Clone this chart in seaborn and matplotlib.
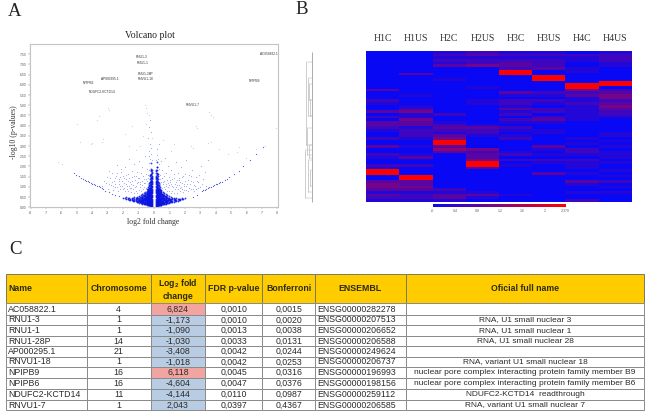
import matplotlib
matplotlib.use("Agg")
import matplotlib.pyplot as plt
from matplotlib.colors import LinearSegmentedColormap
from matplotlib.table import Table
import numpy as np
import pandas as pd
import seaborn as sns

# Panel A: values
gene_labels = ["RNU1-3", "RNU1-1", "RNU1-28P", "RNVU1-18", "AP000295.1", "NPIPB6",
               "NDUFC2-KCTD14", "RNVU1-7", "NPIPB9", "AC058822.1"]
gene_fc = [-0.8, -0.74, -0.54, -0.54, -2.86, -4.26, -3.4, 2.49, 6.5, 7.45]
gene_logp = [7.36, 7.08, 6.55, 6.27, 6.27, 6.1, 5.67, 5.02, 6.17, 7.5]

# dense centre of the plot, one list of -log10 p per fold change column
core_fc = [-0.12, -0.17, -0.22, -0.28, -0.34, -0.41, -0.48, -0.56, -0.65, -0.75, -0.86, -1.0, -1.13, -1.28, -1.45, -1.62, -1.8, -2.0,
           0.12, 0.17, 0.22, 0.28, 0.34, 0.41, 0.48, 0.56, 0.65, 0.75, 0.86, 1.0, 1.13, 1.28, 1.45, 1.62, 1.8, 2.0]
core_logp = [
    [.03, .1, .2, .3, .42, .55, .68, .8, .92, 1.05, 1.18, 1.3, 1.42, 1.55, 1.68, 1.82],
    [.04, .09, .15, .22, .3, .38, .46, .54, .62, .7, .8, .9, 1.0, 1.1, 1.22, 1.35, 1.5, 1.65, 1.85],
    [.06, .12, .18, .25, .32, .39, .46, .53, .6, .68, .76, .84, .93, 1.03, 1.15, 1.3, 1.45, 1.62, 1.9, 2.15],
    [.08, .14, .2, .26, .32, .38, .44, .5, .56, .62, .7, .78, .86, .96, 1.08, 1.22, 1.4, 1.6],
    [.1, .16, .22, .28, .34, .4, .46, .52, .58, .64, .72, .8, .9, 1.02, 1.2],
    [.11, .17, .23, .29, .35, .41, .47, .53, .6, .68, .76, .86, 1.0],
    [.13, .19, .25, .31, .37, .43, .49, .56, .63, .72, .82],
    [.14, .2, .26, .32, .38, .44, .5, .57, .66, .76],
    [.16, .22, .28, .34, .4, .46, .53, .6, .7],
    [.18, .24, .3, .36, .42, .48, .55, .64],
    [.2, .26, .32, .38, .44, .5, .58],
    [.23, .29, .35, .41, .47, .55],
    [.27, .33, .39, .45, .52],
    [.3, .36, .42, .49],
    [.34, .4, .47],
    [.38, .45],
    [.42, .5],
    [.47],
    [.03, .1, .2, .3, .42, .55, .68, .8, .92, 1.05, 1.18, 1.3, 1.42, 1.55, 1.7, 1.85],
    [.04, .09, .15, .22, .3, .38, .46, .54, .62, .7, .8, .9, 1.0, 1.1, 1.22, 1.35, 1.5, 1.7, 1.95],
    [.06, .12, .18, .25, .32, .39, .46, .53, .6, .68, .76, .84, .93, 1.03, 1.15, 1.3, 1.45, 1.65, 1.95, 2.2],
    [.08, .14, .2, .26, .32, .38, .44, .5, .56, .62, .7, .78, .86, .96, 1.08, 1.22, 1.4, 1.65],
    [.09, .15, .21, .27, .33, .39, .45, .51, .57, .64, .72, .8, .9, 1.02, 1.2],
    [.11, .17, .23, .29, .35, .41, .47, .53, .6, .68, .76, .86, 1.0],
    [.12, .18, .24, .3, .36, .42, .48, .55, .63, .72, .82],
    [.14, .2, .26, .32, .38, .44, .5, .57, .66, .76],
    [.16, .22, .28, .34, .4, .46, .53, .6, .7],
    [.18, .24, .3, .36, .42, .48, .55, .64],
    [.2, .26, .32, .38, .44, .5, .58],
    [.22, .28, .34, .4, .46, .54],
    [.25, .31, .37, .43, .5],
    [.28, .34, .4, .47],
    [.32, .38, .45],
    [.36, .43],
    [.4, .48],
    [.45],
]

# same region, columns falling between the ones above
core_fc_b = [-0.145, -0.195, -0.25, -0.31, -0.375, -0.445, -0.52, -0.605, -0.7, -0.8, -0.93, -1.07, -1.2, -1.36, -1.53, -1.7, -1.9,
             0.145, 0.195, 0.25, 0.31, 0.375, 0.445, 0.52, 0.605, 0.7, 0.8, 0.93, 1.07, 1.2, 1.36, 1.53, 1.7, 1.9]
core_logp_b = [
    [.07, .16, .27, .38, .5, .62, .75, .87, 1.0, 1.12, 1.25, 1.37, 1.5, 1.72],
    [.07, .13, .2, .27, .35, .43, .51, .59, .67, .75, .85, .95, 1.06, 1.18, 1.3, 1.44, 1.58, 1.77],
    [.1, .16, .23, .29, .36, .42, .49, .57, .65, .73, .81, .9, 1.0, 1.12, 1.26, 1.52],
    [.12, .18, .24, .3, .36, .42, .48, .54, .6, .67, .75, .84, .95, 1.1],
    [.13, .19, .25, .31, .37, .43, .49, .55, .62, .7, .79, .92],
    [.14, .2, .26, .32, .38, .44, .5, .57, .65, .74, .88],
    [.16, .22, .28, .34, .4, .46, .52, .6, .68],
    [.17, .23, .29, .35, .41, .47, .54, .62],
    [.19, .25, .31, .37, .43, .5, .58],
    [.21, .27, .33, .39, .45, .52],
    [.24, .3, .36, .42, .49],
    [.26, .32, .38, .44],
    [.29, .35, .41, .48],
    [.32, .38, .44],
    [.36, .42],
    [.4, .46],
    [.44],
    [.07, .16, .27, .38, .5, .62, .75, .87, 1.0, 1.12, 1.25, 1.37, 1.5, 1.78],
    [.07, .13, .2, .27, .35, .43, .51, .59, .67, .75, .85, .95, 1.06, 1.18, 1.3, 1.44, 1.6, 1.82],
    [.1, .16, .23, .29, .36, .42, .49, .57, .65, .73, .81, .9, 1.0, 1.12, 1.26, 1.55],
    [.11, .17, .23, .29, .35, .41, .47, .53, .59, .66, .74, .83, .94, 1.08],
    [.12, .18, .24, .3, .36, .42, .48, .54, .61, .69, .78, .9],
    [.13, .19, .25, .31, .37, .43, .49, .56, .64, .73, .86],
    [.15, .21, .27, .33, .39, .45, .51, .59, .67],
    [.16, .22, .28, .34, .4, .46, .53, .61],
    [.18, .24, .3, .36, .42, .49, .57],
    [.2, .26, .32, .38, .44, .51],
    [.23, .29, .35, .41, .48],
    [.25, .31, .37, .43],
    [.27, .33, .39, .46],
    [.3, .36, .42],
    [.33, .39],
    [.37, .43],
    [.42],
]

# thinner cloud around the centre
spread_points = [
    (-3.4, 1.02), (-3.1, 1.2), (-3.0, .92), (-2.85, 1.45), (-2.8, 1.08), (-2.7, 1.7), (-2.65, .85), (-2.6, 1.3),
    (-2.5, .98), (-2.45, 1.55), (-2.4, 2.05), (-2.35, .78), (-2.3, 1.15), (-2.25, 1.38), (-2.2, .9), (-2.15, 1.75),
    (-2.1, 1.05), (-2.05, 1.28), (-2.0, 1.52), (-1.95, .95), (-1.9, 1.95), (-1.85, 1.15), (-1.8, 1.38), (-1.75, .88),
    (-1.7, 1.62), (-1.65, 1.05), (-1.6, 2.35), (-1.55, 1.25), (-1.5, .95), (-1.45, 1.48), (-1.4, 1.8), (-1.35, 1.1),
    (-1.3, 2.1), (-1.25, 1.32), (-1.2, 1.55), (-1.15, 1.05), (-1.1, 1.75), (-1.05, 1.25), (-1.0, 2.25), (-.95, 1.45),
    (-.9, 1.12), (-.85, 1.68), (-.8, 1.95), (-.75, 1.3), (-.7, 1.52), (-.65, 1.2), (-.6, 2.5), (-.55, 1.65),
    (-.5, 1.4), (-.45, 1.9), (-.4, 1.58), (-.35, 2.15), (-.3, 1.85), (-.25, 2.35), (-.2, 2.6), (-.18, 2.9),
    (-.3, 2.75), (-.15, 2.3), (-.25, 3.1), (-.4, 3.4), (-.2, 3.7), (-.3, 3.95), (-.25, 4.3), (-.35, 2.5),
    (.15, 2.3), (.2, 2.55), (.25, 2.35), (.3, 2.1), (.22, 2.85), (.3, 3.1), (.35, 1.9), (.4, 1.6),
    (.45, 2.25), (.5, 1.45), (.55, 1.85), (.6, 1.25), (.65, 1.55), (.7, 2.4), (.75, 1.15), (.8, 1.7),
    (.85, 1.35), (.9, 2.0), (.95, 1.1), (1.0, 1.5), (1.05, 1.25), (1.1, 1.85), (1.15, 1.05), (1.2, 1.4),
    (1.3, 1.65), (1.35, 1.15), (1.4, 2.2), (1.45, .98), (1.5, 1.35), (1.55, 1.7), (1.6, 1.08), (1.65, 1.45),
    (1.7, .95), (1.75, 1.95), (1.8, 1.2), (1.85, .9), (1.9, 1.55), (1.95, 1.05), (2.0, 1.3), (2.05, 2.3),
    (2.1, .85), (2.15, 1.15), (2.25, 1.6), (2.3, .95), (2.4, 1.3), (2.45, 1.85), (2.5, .88), (2.6, 1.1),
    (2.7, 1.5), (2.75, .92), (2.85, 1.25), (3.0, 1.0), (3.05, 2.0), (3.2, 1.4), (3.35, 1.05), (3.5, 2.3),
]

# pale specks filling the cloud
faint_points = [
    (-3.25, 1.3), (-3.05, 1.5), (-2.95, 1.15), (-2.9, 1.8), (-2.75, 1.25), (-2.68, 1.02), (-2.55, 1.42), (-2.52, 1.12),
    (-2.42, 1.7), (-2.38, .98), (-2.28, 1.28), (-2.2, 1.5), (-2.18, 1.02), (-2.12, 1.9), (-2.02, .88), (-1.98, 1.18),
    (-1.92, 1.42), (-1.88, .78), (-1.82, 1.6), (-1.78, 1.02), (-1.72, 1.28), (-1.68, .82), (-1.62, 1.45), (-1.58, .95),
    (-1.52, 1.12), (-1.48, .75), (-1.42, 1.3), (-1.38, .9), (-1.32, 1.55), (-1.28, .72), (-1.22, 1.0), (-1.18, .8),
    (-1.12, 1.18), (-1.08, .7), (-1.02, 1.42), (-.98, .85), (-.92, 1.0), (-.88, 1.25), (-.82, .78), (-.78, 1.1),
    (-.72, .92), (-.68, 1.38), (-.62, 1.0), (-.58, 1.18), (-.52, .95), (-.48, 1.3), (-.42, 1.12), (-.38, 1.42),
    (.38, 1.38), (.42, 1.12), (.48, 1.25), (.52, .95), (.58, 1.12), (.62, 1.0), (.68, 1.3), (.72, .9),
    (.78, 1.05), (.82, .78), (.88, 1.2), (.92, .98), (.98, .82), (1.02, 1.32), (1.08, .7), (1.12, 1.12),
    (1.18, .78), (1.22, .98), (1.28, .72), (1.32, 1.45), (1.38, .88), (1.42, 1.25), (1.48, .72), (1.52, 1.08),
    (1.58, .92), (1.62, 1.35), (1.68, .8), (1.72, 1.22), (1.78, .98), (1.82, 1.5), (1.88, .75), (1.92, 1.12),
    (1.98, .85), (2.02, 1.65), (2.08, 1.02), (2.18, 1.35), (2.22, .82), (2.32, 1.15), (2.38, 1.55), (2.42, .92),
    (2.52, 1.25), (2.58, .78), (2.68, 1.02), (2.78, 1.3), (2.88, .95), (2.95, 1.6), (3.1, 1.15), (3.3, 1.75),
]

# straight arms of the V and the few points high up
wing_points = [
    (-5.2, 1.66), (-5.05, 1.6), (-4.9, 1.52), (-4.75, 1.45), (-4.6, 1.4), (-4.5, 1.34), (-4.4, 1.31), (-4.3, 1.27),
    (-4.2, 1.24), (-4.1, 1.2), (-4.0, 1.16), (-3.9, 1.13), (-3.8, 1.09), (-3.7, 1.05), (-3.6, 1.02), (-3.5, .98),
    (-3.4, .94), (-3.3, .89), (-3.18, .81), (-2.9, .73), (-2.7, .67), (-2.5, .6), (-2.3, .54),
    (2.55, .52), (2.8, .62), (3.1, .81), (3.2, .84), (3.3, .87), (3.4, .91), (3.5, .95), (3.6, .98), (3.7, 1.01),
    (3.8, 1.05), (3.9, 1.08), (4.0, 1.12), (4.1, 1.15), (4.2, 1.19), (4.3, 1.22), (4.4, 1.25), (4.6, 1.33),
    (4.75, 1.4), (4.9, 1.46), (5.2, 1.62), (5.5, 1.8), (5.8, 2.0), (6.2, 2.3), (6.6, 2.6), (7.1, 2.96),
]
upper_points = [
    (-6.0, 2.1), (-6.2, 2.2), (-4.8, 3.2), (-4.1, 3.1), (-4.0, 3.15), (-3.4, 3.2), (-3.3, 3.35), (-5.0, 4.1),
    (-3.7, 4.3), (-3.6, 4.45), (-3.0, 4.85), (-2.9, 4.75), (-1.9, 3.6), (-1.4, 4.0), (-1.6, 3.0), (-.6, 5.0),
    (-.5, 4.85), (-.45, 4.6), (-.3, 4.5), (-.55, 4.1), (-.7, 3.5), (-.9, 3.0), (-.15, 3.4), (-1.2, 2.8),
    (.6, 3.3), (1.1, 2.75), (1.3, 3.1), (2.4, 3.0), (2.55, 2.9), (2.7, 4.0), (2.8, 3.9), (3.6, 4.65),
    (3.7, 4.5), (3.85, 4.4), (3.5, 3.15), (3.7, 3.2), (4.2, 2.85), (4.8, 2.6), (5.4, 2.7), (6.6, 2.85),
    (7.2, 3.0), (7.9, 3.9), (5.5, 2.95), (6.0, 2.4),
]

# Panel B: heatmap columns, 0 is pure blue and 9 pure red
heat_samples = ["H1C", "H1US", "H2C", "H2US", "H3C", "H3US", "H4C", "H4US"]
h1c = [0, 0, 0, 0, 0, 0, 0, 0, 0, 0,  0, 0, 0, 0, 3, 0, 0, 0, 2, 1,  0, 0, 3, 0, 2, 0, 3, 3, 2, 1,
       0, 0, 2, 0, 0, 3, 0, 0, 2, 1,  0, 0, 2, 1, 9, 9, 0, 0, 3, 4,  4, 3, 1, 3, 2, 1]
h1us = [0, 0, 0, 0, 0, 0, 0, 0, 3, 0,  0, 0, 0, 0, 0, 0, 1, 0, 0, 0,  1, 2, 4, 1, 1, 4, 3, 3, 1, 2,
        2, 2, 1, 0, 0, 1, 0, 0, 1, 3,  0, 0, 2, 0, 0, 0, 9, 9, 3, 3,  4, 3, 1, 2, 2, 1]
h2c = [1, 2, 1, 2, 1, 3, 0, 0, 0, 0,  1, 0, 0, 0, 0, 0, 0, 0, 0, 0,  0, 0, 0, 2, 0, 0, 1, 2, 3, 2,
       1, 3, 4, 9, 9, 3, 5, 3, 0, 0,  0, 0, 0, 0, 0, 0, 0, 0, 0, 0,  0, 2, 1, 3, 3, 1]
h2us = [2, 3, 1, 2, 2, 4, 0, 0, 0, 0,  0, 0, 0, 1, 0, 0, 0, 0, 1, 1,  0, 0, 0, 0, 0, 0, 0, 1, 3, 2,
        2, 1, 0, 0, 0, 0, 4, 2, 3, 3,  4, 9, 9, 3, 0, 0, 0, 0, 0, 0,  0, 0, 1, 3, 1, 0]
h3c = [1, 2, 1, 2, 3, 3, 2, 9, 9, 0,  0, 0, 0, 0, 0, 3, 1, 0, 2, 2,  1, 3, 1, 2, 0, 2, 1, 0, 2, 1,
       0, 1, 2, 0, 0, 0, 0, 1, 2, 0,  2, 0, 1, 0, 0, 0, 0, 0, 0, 0,  0, 0, 0, 1, 0, 0]
h3us = [1, 2, 1, 2, 2, 2, 3, 0, 0, 9,  9, 0, 0, 0, 0, 2, 1, 0, 2, 1,  0, 2, 2, 0, 2, 3, 1, 0, 0, 1,
        1, 0, 0, 0, 0, 3, 1, 0, 1, 0,  2, 1, 0, 0, 0, 3, 0, 0, 0, 0,  0, 0, 0, 0, 0, 0]
h4c = [0, 2, 1, 1, 0, 0, 1, 1, 0, 0,  0, 0, 9, 9, 4, 2, 3, 1, 1, 2,  1, 1, 1, 1, 1, 1, 0, 0, 0, 0,
       0, 0, 1, 0, 1, 0, 2, 2, 1, 0,  2, 1, 1, 1, 0, 1, 0, 0, 3, 1,  0, 0, 1, 0, 0, 2]
h4us = [1, 2, 2, 2, 1, 1, 0, 0, 0, 0,  0, 9, 9, 0, 2, 3, 4, 4, 2, 3,  4, 3, 2, 2, 1, 0, 0, 0, 0, 0,
        1, 1, 0, 1, 0, 1, 0, 1, 1, 1,  0, 1, 0, 0, 1, 0, 1, 0, 2, 0,  1, 0, 1, 0, 0, 0]
heat_max = 2.37
heat_ticks = [0, 0.4, 0.8, 1.2, 1.6, 2.0, 2.37]
heat_tick_labels = ["-0", "0.4", "0.8", "1.2", "1.6", "2", "2.370"]

# dendrogram brackets beside the heatmap: left edge, top, bottom
dendro_left = [305.5, 304.5, 307.5, 309, 306.5, 307.5, 309.5, 310, 308.5]
dendro_top = [62, 150, 78, 84, 128, 160, 170, 100, 145]
dendro_bottom = [145, 198, 116, 100, 155, 192, 186, 116, 158]

# Panel C: table
table_header = ["Name", "Chromosome", "Log$_2$ fold\nchange", "FDR p-value", "Bonferroni", "ENSEMBL", "Oficial full name"]
names = ["AC058822.1", "RNU1-3", "RNU1-1", "RNU1-28P", "AP000295.1", "RNVU1-18", "NPIPB9", "NPIPB6", "NDUFC2-KCTD14", "RNVU1-7"]
chromosomes = ["4", "1", "1", "14", "21", "1", "16", "16", "11", "1"]
log2_fc = ["6,824", "-1,173", "-1,090", "-1,030", "-3,408", "-1,018", "6,118", "-4,604", "-4,144", "2,043"]
fdr_p = ["0,0010", "0,0010", "0,0013", "0,0033", "0,0042", "0,0042", "0,0045", "0,0047", "0,0110", "0,0397"]
bonferroni = ["0,0015", "0,0020", "0,0038", "0,0131", "0,0244", "0,0253", "0,0316", "0,0376", "0,0987", "0,4367"]
ensembl = ["ENSG00000282278", "ENSG00000207513", "ENSG00000206652", "ENSG00000206588", "ENSG00000249624",
           "ENSG00000206737", "ENSG00000196993", "ENSG00000198156", "ENSG00000259112", "ENSG00000206585"]
full_names = ["", "RNA, U1 small nuclear 3", "RNA, U1 small nuclear 1", "RNA, U1 small nuclear 28", "",
              "RNA, variant U1 small nuclear 18", "nuclear pore complex interacting protein family member B9",
              "nuclear pore complex interacting protein family member B6", "NDUFC2-KCTD14  readthrough",
              "RNA, variant U1 small nuclear 7"]
col_edges = [6, 86.7, 150.7, 205, 262.3, 315, 405.7, 644.3]
row_edges = [274.3, 303.3, 314.7, 325.3, 335.7, 346.3, 356.7, 367.3, 378, 389, 399.7, 410.3]

W, H = 650, 418
sns.set_theme(style="white")
plt.rcParams["font.family"] = ["Liberation Sans", "DejaVu Sans"]
plt.rcParams["mathtext.default"] = "regular"
SERIF = "Liberation Serif"


def px_axes(fig, x0, y0, x1, y1):
    # axes rectangle given in image pixels, y going down
    return fig.add_axes([x0 / W, 1 - y1 / H, (x1 - x0) / W, (y1 - y0) / H])


fig = plt.figure(figsize=(W / 100, H / 100), dpi=100, facecolor="white")

for letter, lx, ly in [("A", 15, 11), ("B", 302, 10), ("C", 15, 250)]:
    fig.text(lx / W, 1 - ly / H, letter, family=SERIF, fontsize=13.5, color="#222222", ha="center", va="center")

# Volcano plot
ax_v = px_axes(fig, 30, 44, 278, 207.3)
core_a = pd.DataFrame({"fc": core_fc, "logp": core_logp}).explode("logp")
core_b = pd.DataFrame({"fc": core_fc_b, "logp": core_logp_b}).explode("logp")
core_df = pd.concat([core_a, core_b])
core_df["logp"] = core_df["logp"].astype(float)
spread_df = pd.DataFrame(spread_points, columns=["fc", "logp"])
faint_df = pd.DataFrame(faint_points, columns=["fc", "logp"])
wing_df = pd.DataFrame(wing_points, columns=["fc", "logp"])
upper_df = pd.DataFrame(upper_points, columns=["fc", "logp"])
sns.scatterplot(data=upper_df, x="fc", y="logp", color="#6c7cd8", s=0.6, alpha=0.4, linewidth=0, ax=ax_v)
sns.scatterplot(data=faint_df, x="fc", y="logp", color="#3d4fd8", s=0.7, alpha=0.45, linewidth=0, ax=ax_v)
sns.scatterplot(data=spread_df, x="fc", y="logp", color="#3d4fd8", s=0.7, alpha=0.5, linewidth=0, ax=ax_v)
sns.scatterplot(data=wing_df, x="fc", y="logp", color="#1c2cc8", s=0.8, alpha=0.75, linewidth=0, ax=ax_v)
sns.scatterplot(data=core_df, x="fc", y="logp", color="#0a14e0", s=1.7, alpha=0.85, linewidth=0, ax=ax_v)
for name, gx, gy in zip(gene_labels, gene_fc, gene_logp):
    ax_v.text(gx, gy, name, fontsize=2.3, color="#333333", ha="center", va="center")
ax_v.set_xlim(-8.05, 8.05)
ax_v.set_ylim(0, 8)
ax_v.set_xticks(np.arange(-8, 9))
ax_v.set_xticklabels([str(t) for t in range(-8, 9)])
ax_v.set_yticks(np.arange(0, 8, 0.5))
ax_v.set_yticklabels([f"{t:.2f}" for t in np.arange(0, 8, 0.5)])
ax_v.set_xticks(np.arange(-8, 8.01, 0.25), minor=True)
ax_v.set_yticks(np.arange(0, 8.01, 0.1), minor=True)
ax_v.tick_params(axis="both", which="major", length=1.2, width=0.3, labelsize=2.4, pad=1.2, color="#777777", labelcolor="#555555", bottom=True, left=True)
ax_v.tick_params(axis="both", which="minor", length=0.7, width=0.2, color="#999999", bottom=True, left=True)
for spine in ax_v.spines.values():
    spine.set_color("#c4c4c4")
    spine.set_linewidth(0.8)
ax_v.set_xlabel("")
ax_v.set_ylabel("")
fig.text(150 / W, 1 - 36 / H, "Volcano plot", family=SERIF, fontsize=7, color="#222222", ha="center", va="center")
fig.text(153.5 / W, 1 - 222 / H, "log2 fold change", family=SERIF, fontsize=5.6, color="#333333", ha="center", va="center")
fig.text(14 / W, 1 - 132 / H, "-log10 (p-values)", family=SERIF, fontsize=5.6, color="#333333", ha="center", va="center", rotation=90)

# Heatmap with its colour bar
ax_h = px_axes(fig, 366.3, 51, 631.7, 201.7)
ax_cb = px_axes(fig, 432.7, 204, 565.7, 207.3)
heat_levels = pd.DataFrame(dict(zip(heat_samples, [h1c, h1us, h2c, h2us, h3c, h3us, h4c, h4us])))
heat_df = heat_levels * heat_max / 9
blue_red = LinearSegmentedColormap.from_list("blue_red", ["#0808f4", "#ff0000"])
sns.heatmap(heat_df, cmap=blue_red, vmin=0, vmax=heat_max, ax=ax_h, cbar_ax=ax_cb, yticklabels=False,
            cbar_kws={"orientation": "horizontal", "ticks": heat_ticks})
ax_h.xaxis.tick_top()
ax_h.tick_params(axis="x", length=0, pad=6, labelsize=7, labelcolor="#333333", rotation=0)
for lab in ax_h.get_xticklabels():
    lab.set_family(SERIF)
ax_cb.set_xticklabels(heat_tick_labels)
ax_cb.tick_params(axis="x", length=0, pad=1, labelsize=2.6, labelcolor="#666666")

# Dendrogram
ax_d = px_axes(fig, 296, 45, 320, 210)
ax_d.set_xlim(296, 320)
ax_d.set_ylim(210, 45)
ax_d.axis("off")
ax_d.vlines(312, 52, 202, color="#8a8a8a", linewidth=0.5)
ax_d.vlines(dendro_left, dendro_top, dendro_bottom, color="#a8a8a8", linewidth=0.4)
ax_d.hlines(dendro_top, dendro_left, 312, color="#b4b4b4", linewidth=0.35)
ax_d.hlines(dendro_bottom, dendro_left, 312, color="#b4b4b4", linewidth=0.35)

# Table
ax_t = px_axes(fig, col_edges[0], row_edges[0], col_edges[-1], row_edges[-1])
ax_t.axis("off")
table = Table(ax_t, bbox=[0, 0, 1, 1])
table.auto_set_font_size(False)
col_w = np.diff(col_edges) / (col_edges[-1] - col_edges[0])
row_h = np.diff(row_edges) / (row_edges[-1] - row_edges[0])
columns = [names, chromosomes, log2_fc, fdr_p, bonferroni, ensembl, full_names]
left_cols = [0, 5]
for c, title in enumerate(table_header):
    cell = table.add_cell(0, c, col_w[c], row_h[0], text=title, loc="left" if c == 0 else "center",
                          facecolor="#ffcc00", edgecolor="#7a7a5a")
    cell.set_linewidth(0.7)
    cell.PAD = 0.03
    cell.get_text().set_fontweight("bold")
    cell.get_text().set_color("#2b2b10")
    cell.get_text().set_fontsize(6.3)
    for r, value in enumerate(columns[c]):
        face = "white"
        if c == 2:
            face = "#f2a5a0" if not value.startswith("-") and value != "2,043" else "#b8cce4"
        body = table.add_cell(r + 1, c, col_w[c], row_h[r + 1], text=value,
                              loc="left" if c in left_cols else "center", facecolor=face, edgecolor="#8a8a8a")
        body.set_linewidth(0.7)
        body.PAD = 0.03 if c == 0 else 0.02
        body.get_text().set_color("#2a2a2a")
        body.get_text().set_fontsize(6.05 if c == 6 else 6.3)
ax_t.add_table(table)

fig.savefig("out.png", dpi=100)
